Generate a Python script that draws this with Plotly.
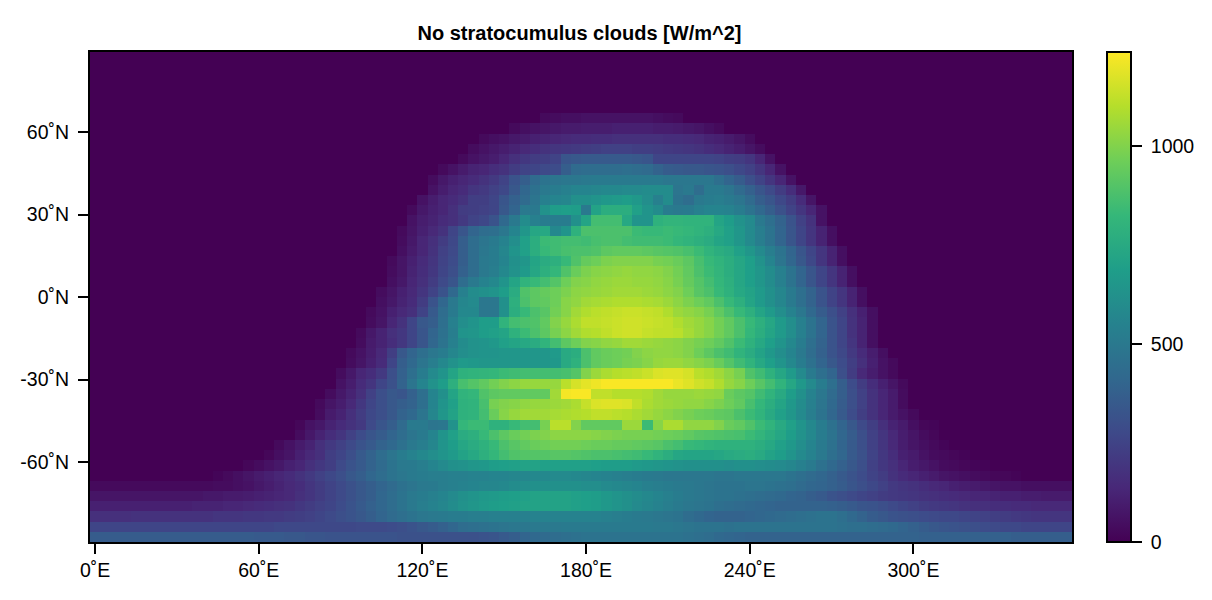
import numpy as np
import plotly.graph_objects as go

TITLE = "No stratocumulus clouds [W/m^2]"
X_TICKS = [0, 60, 120, 180, 240, 300]
X_LABELS = ["0˚E", "60˚E", "120˚E", "180˚E", "240˚E", "300˚E"]
Y_TICKS = [-60, -30, 0, 30, 60]
Y_LABELS = ["-60˚N", "-30˚N", "0˚N", "30˚N", "60˚N"]
CBAR_TICKS = [0, 500, 1000]
Z_MAX = 1237

N_LON = 96
N_LAT = 48
LON_STEP = 3.75
LAT_TOP = 87.23
LAT_STEP = 3.712

# Each row (north to south): first non-zero column, then values.
R06 = (44, [30,40,50,50,60,60,60,60,60,60,60,50,40,30])
R07 = (41, [30,50,60,70,80,90,90,100,100,100,110,110,110,110,100,100,90,80,70,50,30])
R08 = (38, [30,50,60,80,90,110,120,130,140,150,150,160,160,170,170,170,170,170,160,160,150,140,120,110,90,70,40])
R09 = (37, [40,60,80,100,120,140,160,180,190,200,210,220,230,240,240,240,230,230,220,210,200,190,180,160,140,120,100,70,40])
R10 = (36, [30,60,80,100,130,170,200,220,230,250,330,340,350,350,350,350,350,340,330,260,260,260,260,260,260,250,230,220,190,130,60])
R11 = (34, [30,60,90,120,130,160,180,220,250,260,280,290,370,430,440,440,440,440,450,440,430,390,360,350,340,340,330,320,300,270,240,190,130,60])
R12 = (33, [40,80,110,130,150,180,210,250,320,370,430,470,480,490,490,500,510,510,510,510,510,510,510,490,490,490,490,490,450,400,360,300,250,190,130,60])
R13 = (33, [60,100,130,150,190,210,240,270,340,410,460,500,520,540,560,560,570,580,580,590,590,600,600,600,480,500,440,510,510,480,430,380,330,280,220,160,80])
R14 = (32, [60,100,130,150,180,230,230,260,330,380,430,480,540,560,570,620,620,640,660,670,680,660,610,540,600,470,440,500,520,530,510,480,430,370,330,270,220,150,70])
R15 = (31, [30,80,110,130,170,220,230,240,260,340,400,500,500,630,680,690,680,500,710,770,770,770,700,640,600,520,500,510,540,560,560,550,520,470,420,370,310,250,190,130,60])
R16 = (31, [60,100,120,150,170,210,250,270,320,420,500,600,540,520,520,520,620,720,860,860,860,740,640,640,790,810,810,800,800,800,720,680,630,590,500,450,390,320,240,180,60])
R17 = (30, [30,70,110,140,180,260,330,400,440,450,490,560,650,730,740,580,640,790,880,880,880,880,880,840,830,830,840,830,820,800,780,740,700,650,590,530,470,400,330,260,190,120,50])
R18 = (30, [40,80,130,170,220,270,370,440,480,510,550,610,700,770,840,850,860,860,850,870,880,880,860,850,850,850,840,820,800,780,760,720,700,650,590,530,470,400,330,260,190,120,50])
R19 = (30, [50,90,130,180,240,280,370,440,490,520,570,640,700,770,830,850,870,880,880,890,920,930,930,930,920,910,900,890,870,840,800,770,750,700,650,590,530,470,400,330,260,190,120,50])
R20 = (29, [30,70,110,150,190,250,290,370,440,500,520,560,620,650,720,760,780,830,890,940,960,990,1000,1000,1000,1000,980,970,950,920,870,830,800,770,730,690,630,560,480,410,340,270,190,120,50])
R21 = (29, [40,70,120,160,200,260,300,380,440,500,530,580,630,670,730,780,820,890,950,990,1010,1020,1030,1040,1030,1030,1020,1000,970,930,880,840,810,770,730,690,650,600,540,470,400,330,260,190,120,50])
R22 = (29, [50,80,130,170,220,280,330,440,500,550,580,640,720,800,830,860,900,960,1000,1010,1030,1040,1050,1050,1040,1040,1030,1010,980,940,900,860,820,780,730,690,650,600,540,470,400,330,260,190,120,50])
R23 = (28, [40,70,110,140,190,250,320,420,540,600,620,640,680,760,890,920,940,960,990,1020,1030,1040,1050,1060,1060,1060,1050,1040,1020,1000,960,910,880,830,790,740,710,670,620,570,510,450,390,320,250,190,120,50])
R24 = (28, [50,80,120,150,220,320,410,500,570,590,490,490,620,780,880,920,930,960,1010,1030,1060,1070,1080,1090,1090,1090,1080,1070,1050,1020,990,960,930,880,830,780,720,670,620,570,510,450,390,320,250,190,120,50])
R25 = (27, [30,60,110,140,170,250,350,440,510,580,580,490,490,620,770,830,880,910,970,1010,1060,1090,1110,1120,1130,1140,1140,1130,1120,1090,1050,1030,1010,980,930,880,830,780,720,670,610,550,490,420,360,300,240,170,110,50])
R26 = (27, [40,70,130,180,260,340,370,450,540,610,640,680,680,800,860,880,890,930,1000,1040,1080,1120,1120,1130,1140,1150,1150,1140,1130,1120,1090,1060,1040,1010,970,930,880,830,780,730,670,610,540,470,400,320,260,180,120,50])
R27 = (26, [30,80,120,170,200,260,330,400,460,530,640,650,680,700,720,790,840,880,920,980,1020,1060,1090,1100,1120,1140,1150,1150,1130,1120,1120,1110,1070,1040,1010,970,930,880,820,770,720,670,610,540,470,400,320,260,180,120,50])
R28 = (26, [40,90,120,160,200,260,330,410,470,540,600,630,640,660,700,720,740,760,800,860,920,960,1000,1010,1030,1040,1060,1060,1050,1040,1030,1020,1000,980,960,930,890,840,790,740,690,640,580,520,450,390,320,260,190,120,50])
R29 = (25, [30,60,100,140,230,340,400,450,490,520,570,610,630,640,640,650,650,650,650,650,670,750,770,880,930,950,960,970,1000,1020,1030,1030,1020,1000,960,920,880,850,800,760,710,660,610,560,500,440,380,320,270,210,150,100,50])
R30 = (25, [40,70,110,150,260,370,420,480,530,580,630,670,660,650,650,650,650,650,650,650,660,750,790,880,930,950,960,980,990,1010,1040,1050,1050,1030,1010,990,950,900,850,800,740,690,640,580,520,460,400,340,290,230,170,110,60,30])
R31 = (24, [40,80,130,160,210,300,380,450,520,590,640,720,790,800,810,820,840,850,860,860,860,860,870,900,1000,1050,1080,1100,1110,1120,1140,1170,1180,1180,1160,1110,1090,1060,1020,980,890,850,790,730,670,590,510,450,400,300,220,140,100,60,30])
R32 = (24, [60,100,150,190,260,310,390,480,560,630,680,780,870,900,930,970,1000,1020,1040,1040,1040,1040,1110,1160,1190,1210,1230,1230,1230,1230,1230,1230,1230,1200,1180,1150,1130,1090,1040,1010,960,910,860,800,730,660,590,520,450,370,290,220,160,110,70,30])
R33 = (23, [40,80,120,170,240,300,340,330,380,450,560,620,720,800,820,890,920,930,930,930,930,930,1060,1220,1230,1230,1120,1120,1100,1100,1100,1090,1060,1040,1040,1040,1050,1040,1030,950,920,900,850,800,750,680,620,550,490,430,370,300,240,180,130,90,40])
R34 = (22, [30,70,100,140,200,260,300,340,370,390,450,560,640,700,790,800,870,980,1000,1010,1030,1040,1040,1050,1060,1080,1130,1170,1180,1180,1170,1120,1080,1060,1050,1040,1030,1030,1010,990,960,930,870,820,770,720,660,600,540,480,420,360,300,240,180,130,90,40])
R35 = (22, [40,90,120,170,220,270,300,340,390,420,480,570,650,710,790,800,860,950,1010,1040,1060,1060,1060,1070,1080,1090,1100,1120,1120,1110,1100,1080,1060,1040,1020,1000,980,960,950,930,920,880,840,800,750,700,650,590,530,470,410,350,290,230,180,130,90,60,30])
R36 = (20, [20,60,80,120,150,180,210,280,330,370,430,510,510,480,490,630,820,840,840,790,790,830,860,860,980,1110,1110,1000,930,930,930,930,1050,1050,840,1010,1080,1080,1030,1030,1030,1000,950,930,890,840,800,750,700,640,580,520,460,400,340,280,230,170,120,90,50,20,15])
R37 = (20, [40,80,120,160,190,240,290,330,360,400,440,480,510,560,640,700,760,780,830,880,920,950,970,990,1000,1020,1020,1020,1020,1010,1000,990,980,980,980,970,960,950,930,910,900,890,880,870,840,810,770,730,680,630,580,520,470,410,360,300,240,190,140,100,70,40,20])
R38 = (18, [30,60,90,120,170,210,240,280,320,350,390,420,460,500,530,570,640,680,730,760,790,830,880,910,930,950,960,970,970,970,960,950,950,940,940,930,920,910,880,860,830,820,800,790,790,790,790,770,740,700,660,610,560,510,460,400,350,300,240,190,140,100,70,50,30,15])
R39 = (17, [20,50,70,110,140,170,230,260,300,350,390,440,480,520,550,580,610,640,670,710,740,780,820,860,890,900,900,900,910,910,900,890,880,880,870,860,850,830,800,770,730,720,720,720,730,750,760,770,750,710,680,640,590,550,500,450,410,350,310,250,200,160,110,90,60,40,30,20,10])
R40 = (15, [20,40,60,80,110,130,170,200,230,280,320,350,390,430,470,500,510,530,560,590,620,630,650,660,680,690,700,710,710,700,700,700,700,700,690,680,680,680,670,660,650,640,630,620,620,620,620,610,620,620,610,600,590,570,540,510,460,420,380,340,300,240,200,170,130,100,80,60,40,30,20,15,10])
R41 = (12, [15,30,50,70,90,110,130,150,180,210,240,270,300,340,370,410,440,470,490,510,520,530,530,540,540,550,550,560,560,570,570,580,580,590,590,580,570,560,550,540,530,520,510,500,490,490,490,490,490,480,480,490,490,490,490,490,470,450,430,410,380,350,320,290,250,220,180,150,130,110,90,70,60,50,40,30,20,20,10])
R42 = (0, [30,30,30,30,30,30,30,30,30,30,30,30,40,40,50,60,80,100,120,140,160,190,220,250,280,310,340,370,400,430,460,480,500,510,530,540,550,560,570,570,580,600,610,620,620,620,620,620,610,610,590,580,570,560,540,530,520,510,500,490,480,470,470,470,480,480,470,460,450,430,410,400,380,360,330,300,270,240,210,190,180,160,140,130,110,100,90,80,70,60,60,50,50,50,50,50])
R43 = (0, [70,70,70,70,70,70,70,70,70,70,70,80,80,90,90,100,110,120,130,140,170,190,220,250,280,310,340,370,410,440,470,500,520,540,560,590,620,640,660,670,680,690,700,710,710,710,710,700,690,680,660,640,620,600,580,560,540,520,500,490,480,470,470,460,450,440,430,420,400,390,370,350,320,300,280,260,240,220,210,200,190,180,170,160,150,140,130,130,120,110,110,100,100,90,90,90])
R44 = (0, [110,110,110,110,110,110,110,110,110,110,120,120,120,130,130,140,150,160,170,180,200,220,240,260,290,320,350,380,410,440,470,500,530,550,570,600,630,650,670,680,690,700,710,710,710,710,710,700,690,680,660,640,620,590,570,550,530,510,490,480,470,450,440,430,420,410,400,390,390,390,390,390,380,370,350,330,320,300,280,260,240,220,210,200,190,180,170,170,160,160,150,150,140,140,140,140])
R45 = (0, [170,170,170,170,180,180,180,180,180,180,180,180,190,190,190,200,200,210,210,220,230,240,260,280,300,320,340,370,400,430,450,470,490,500,510,520,520,530,530,540,540,540,540,550,550,550,550,550,550,550,540,530,520,510,500,490,480,470,440,420,400,390,390,390,400,410,420,430,440,450,460,470,470,450,420,390,360,340,320,310,300,290,280,270,270,260,250,240,230,220,210,200,190,190,190,190])
R46 = (0, [260,260,260,260,260,260,260,260,260,260,260,260,260,260,260,260,260,260,270,270,270,270,270,270,270,270,280,280,280,290,300,320,340,360,380,410,440,450,460,470,480,490,490,500,500,500,510,510,510,510,510,510,510,510,510,500,500,490,480,470,470,470,460,470,470,470,470,470,470,470,470,470,470,460,450,450,440,430,420,400,380,360,340,330,320,310,300,290,280,270,270,260,260,260,260,260])
R47 = (0, [360,360,360,360,360,360,360,360,360,360,360,360,360,360,360,360,350,350,350,340,340,330,330,320,320,320,320,320,320,320,310,310,310,310,310,310,310,310,320,330,350,370,400,420,430,440,450,460,470,470,470,470,470,470,470,470,470,470,460,450,440,420,410,400,390,390,390,390,390,390,390,390,390,390,390,390,390,390,390,390,390,380,380,380,380,380,380,380,380,380,370,370,370,370,370,370])

ROWS = {6: R06, 7: R07, 8: R08, 9: R09, 10: R10, 11: R11, 12: R12, 13: R13, 14: R14, 15: R15,
        16: R16, 17: R17, 18: R18, 19: R19, 20: R20, 21: R21, 22: R22, 23: R23, 24: R24, 25: R25,
        26: R26, 27: R27, 28: R28, 29: R29, 30: R30, 31: R31, 32: R32, 33: R33, 34: R34, 35: R35,
        36: R36, 37: R37, 38: R38, 39: R39, 40: R40, 41: R41, 42: R42, 43: R43, 44: R44, 45: R45,
        46: R46, 47: R47}

z = np.zeros((N_LAT, N_LON))
for j, (start, vals) in ROWS.items():
    z[j, start:start + len(vals)] = vals[:N_LON - start]

lon = [i * LON_STEP for i in range(N_LON)]
lat = [LAT_TOP - j * LAT_STEP for j in range(N_LAT)]

FONT = "Liberation Sans"
# The page body has an 8px margin, so the figure's own margins are 8px smaller.
fig = go.Figure(go.Heatmap(
    x=lon, y=lat, z=z, colorscale="Viridis", zmin=0, zmax=Z_MAX, zsmooth=False,
    colorbar=dict(
        x=(1107 - 88) / 984, xanchor="left", y=0.5, yanchor="middle",
        thickness=24, thicknessmode="pixels", len=490, lenmode="pixels",
        outlinecolor="black", outlinewidth=2,
        tickmode="array", tickvals=CBAR_TICKS, ticktext=["\u00a0" + str(t) for t in CBAR_TICKS],
        ticks="outside", ticklen=10, tickwidth=1.5, tickcolor="black",
        tickfont=dict(family=FONT, size=19.5, color="black"),
        xpad=0, ypad=0,
    ),
))
axis = dict(showgrid=False, zeroline=False, showline=True, linecolor="black", linewidth=2, mirror=True,
            ticks="outside", ticklen=10, tickwidth=1.5, tickcolor="black",
            tickfont=dict(family=FONT, size=19.5, color="black"))
fig.update_xaxes(range=[-1.875, 358.125], tickmode="array", tickvals=X_TICKS, ticktext=X_LABELS, **axis)
fig.update_yaxes(range=[-89.09, 89.09], tickmode="array", tickvals=Y_TICKS, ticktext=Y_LABELS,
                 ticklabelstandoff=5, **axis)
fig.update_layout(
    width=1212, height=600, autosize=False,
    margin=dict(l=80, r=148, t=44, b=66, pad=0),
    paper_bgcolor="white", plot_bgcolor="white",
    title=dict(text="<b>" + TITLE + "</b>", x=(579.5 - 8) / 1212, xanchor="center", y=1 - 25 / 600, yanchor="middle",
               font=dict(family=FONT, size=20, color="black")),
)
fig.write_html("out.html")
